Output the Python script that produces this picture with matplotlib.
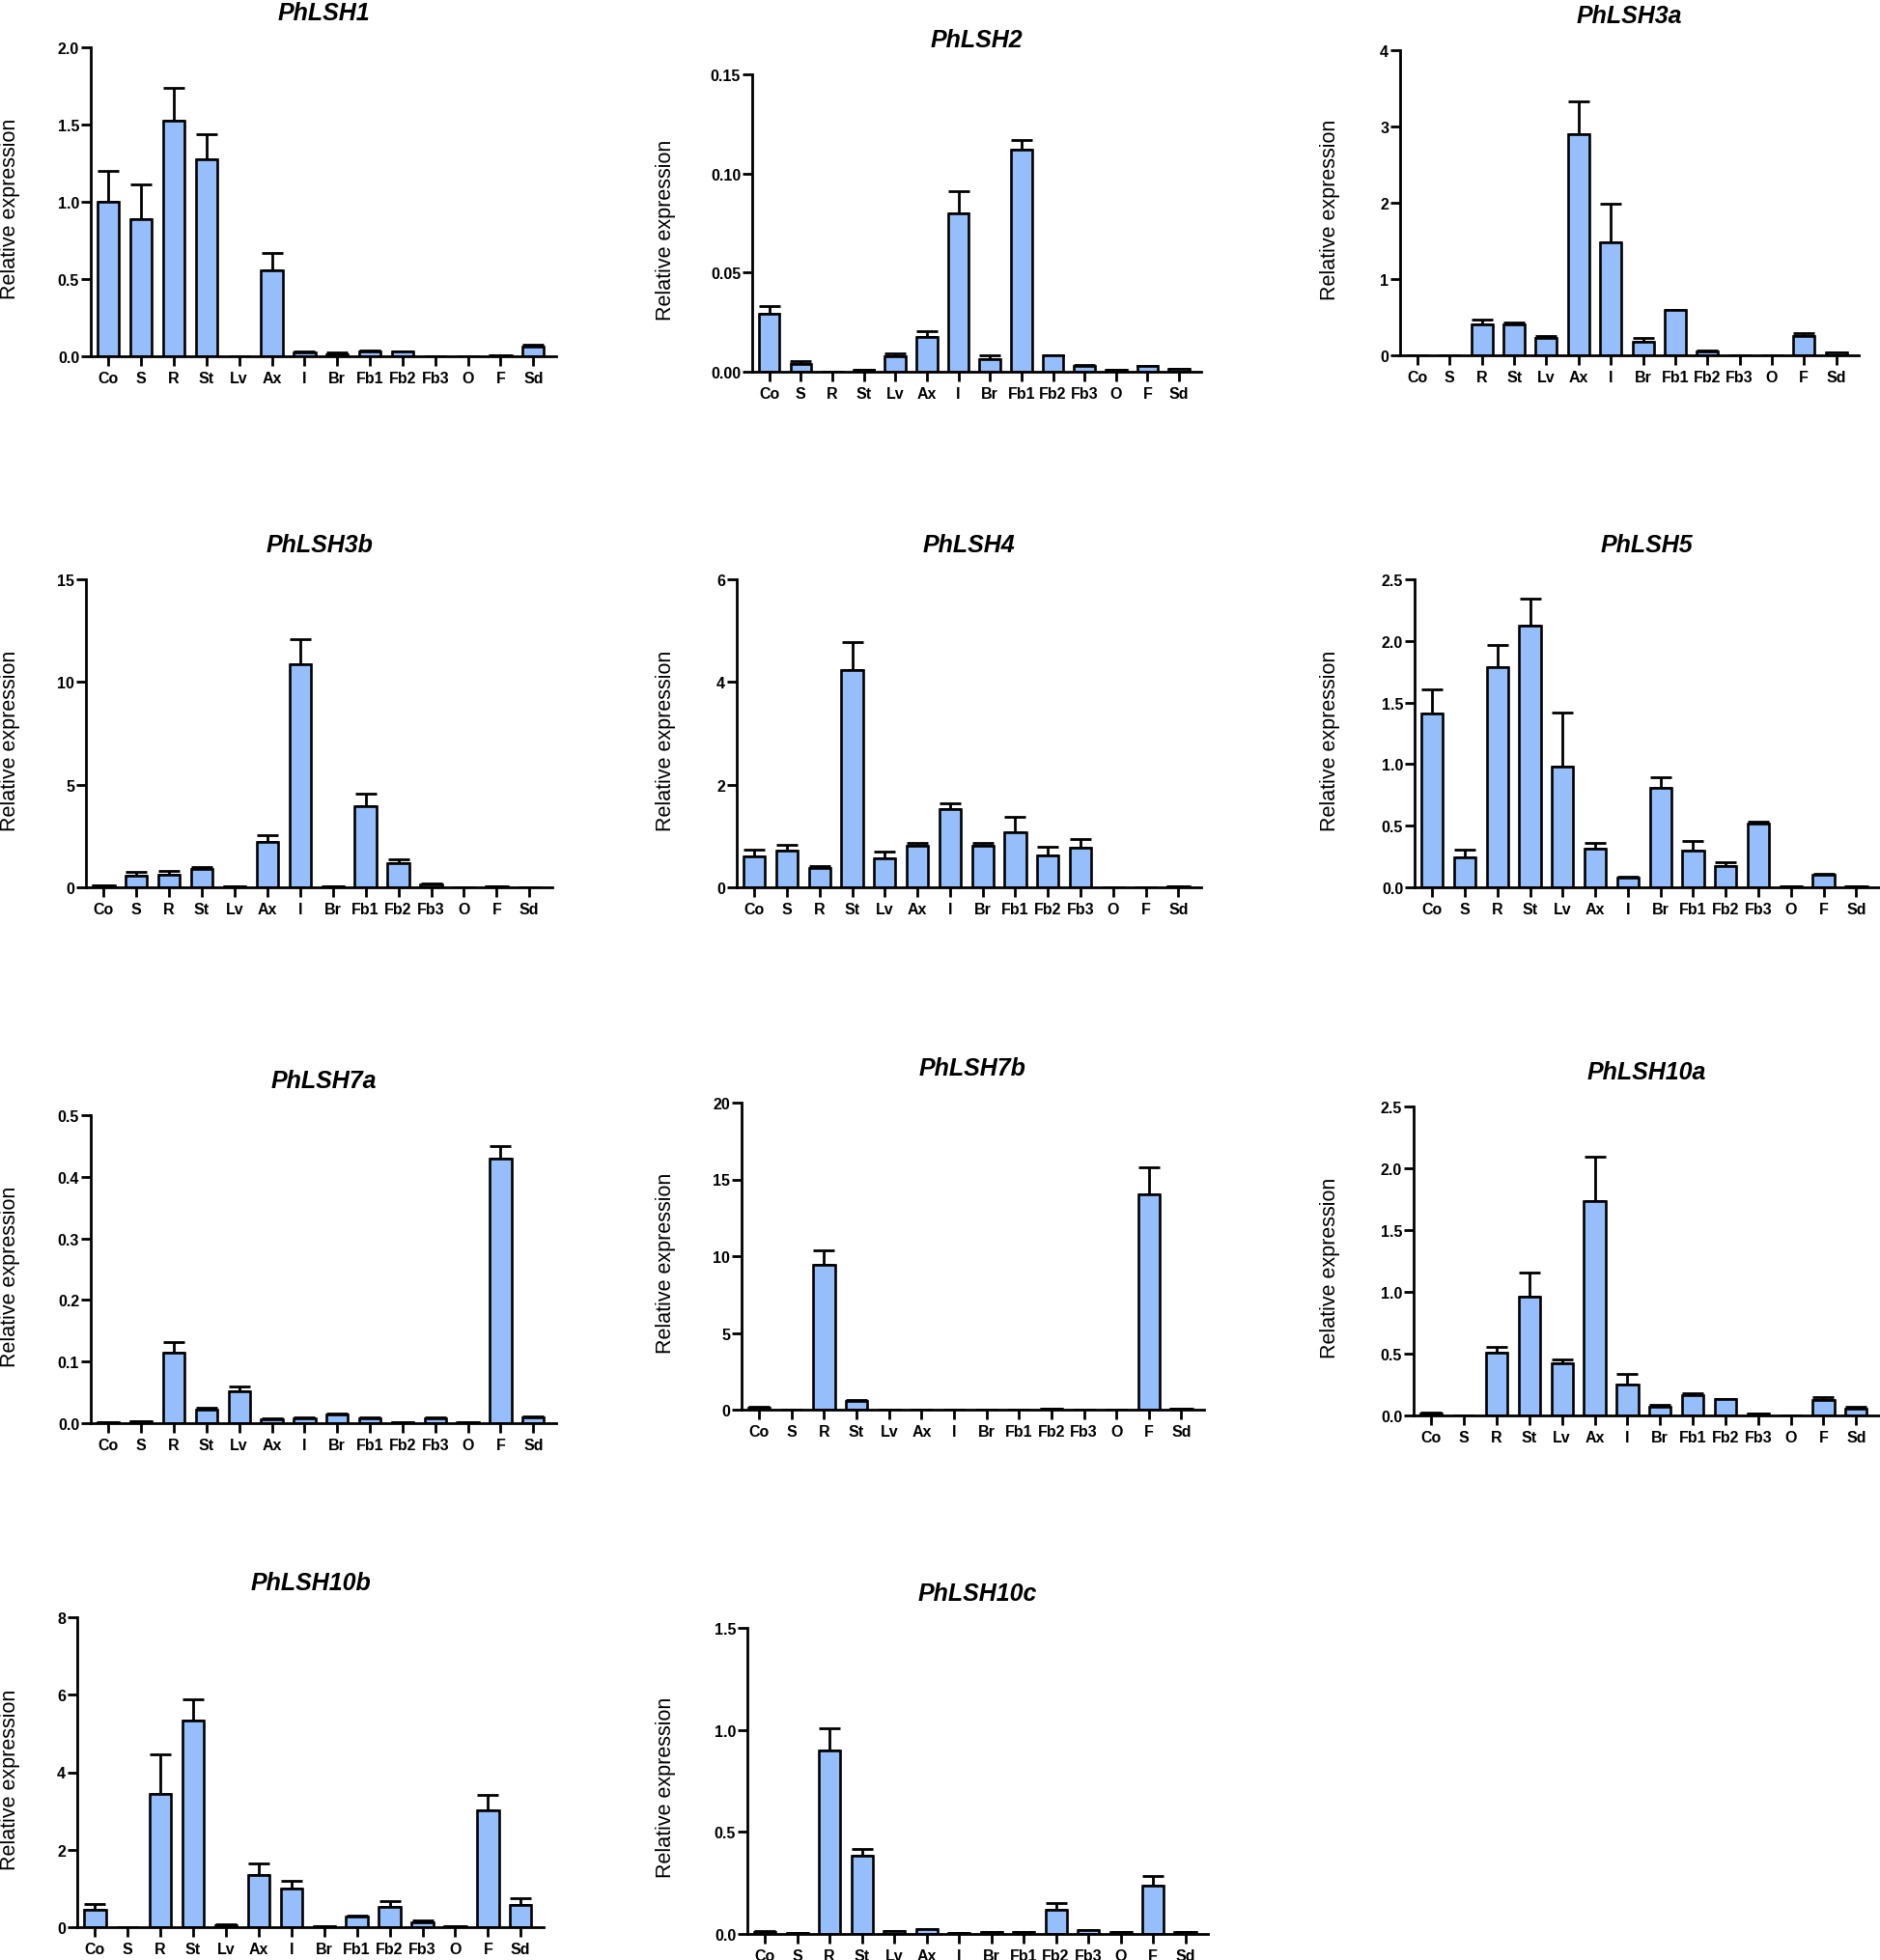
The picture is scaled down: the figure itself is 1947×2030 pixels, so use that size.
import numpy as np
import matplotlib
matplotlib.use("Agg")
import matplotlib.pyplot as plt

# tissues on the x axis
tissues = ["Co", "S", "R", "St", "Lv", "Ax", "I", "Br", "Fb1", "Fb2", "Fb3", "O", "F", "Sd"]

# relative expression (mean) and upper error (SE) per gene
lsh1_mean = [1.0, 0.89, 1.527, 1.277, 0.003, 0.558, 0.025, 0.015, 0.03, 0.03, 0.002, 0.003, 0.005, 0.062]
lsh1_err = [0.2, 0.22, 0.21, 0.16, 0.0, 0.11, 0.005, 0.01, 0.005, 0.003, 0.0, 0.0, 0.0, 0.01]

lsh2_mean = [0.0293, 0.0037, 0.0, 0.0008, 0.0078, 0.0176, 0.0801, 0.0065, 0.1121, 0.0083, 0.0029, 0.0008, 0.0029, 0.0013]
lsh2_err = [0.004, 0.0017, 0.0, 0.0002, 0.0016, 0.0027, 0.011, 0.002, 0.005, 0.0, 0.0005, 0.0, 0.0, 0.0003]

lsh3a_mean = [0.0, 0.005, 0.404, 0.40, 0.223, 2.905, 1.486, 0.181, 0.59, 0.055, 0.003, 0.005, 0.257, 0.034]
lsh3a_err = [0.0, 0.0, 0.06, 0.035, 0.03, 0.42, 0.5, 0.05, 0.005, 0.01, 0.0, 0.0, 0.03, 0.005]

lsh3b_mean = [0.08, 0.58, 0.63, 0.91, 0.03, 2.23, 10.85, 0.04, 3.95, 1.18, 0.13, 0.01, 0.05, 0.02]
lsh3b_err = [0.0, 0.17, 0.15, 0.06, 0.0, 0.31, 1.22, 0.0, 0.6, 0.2, 0.06, 0.0, 0.0, 0.0]

lsh4_mean = [0.61, 0.72, 0.376, 4.23, 0.564, 0.815, 1.517, 0.8, 1.078, 0.627, 0.765, 0.0, 0.0, 0.01]
lsh4_err = [0.12, 0.11, 0.03, 0.55, 0.125, 0.045, 0.11, 0.06, 0.29, 0.16, 0.175, 0.0, 0.0, 0.0]

lsh5_mean = [1.41, 0.243, 1.784, 2.126, 0.98, 0.313, 0.078, 0.81, 0.295, 0.175, 0.515, 0.005, 0.104, 0.008]
lsh5_err = [0.2, 0.065, 0.18, 0.215, 0.44, 0.045, 0.01, 0.085, 0.08, 0.025, 0.02, 0.0, 0.005, 0.0]

lsh7a_mean = [0.002, 0.003, 0.1138, 0.0219, 0.0511, 0.0068, 0.0078, 0.0141, 0.0078, 0.0015, 0.0078, 0.001, 0.4295, 0.0089]
lsh7a_err = [0.0, 0.0, 0.018, 0.0026, 0.009, 0.001, 0.001, 0.001, 0.001, 0.0, 0.001, 0.0, 0.02, 0.002]

lsh7b_mean = [0.13, 0.0, 9.44, 0.55, 0.01, 0.01, 0.01, 0.01, 0.01, 0.05, 0.0, 0.0, 14.02, 0.05]
lsh7b_err = [0.03, 0.0, 0.95, 0.08, 0.0, 0.0, 0.0, 0.0, 0.0, 0.0, 0.0, 0.0, 1.74, 0.0]

lsh10a_mean = [0.018, 0.0, 0.508, 0.964, 0.424, 1.737, 0.253, 0.073, 0.161, 0.13, 0.013, 0.002, 0.125, 0.052]
lsh10a_err = [0.005, 0.0, 0.045, 0.19, 0.03, 0.36, 0.085, 0.01, 0.02, 0.005, 0.003, 0.0, 0.026, 0.02]

lsh10b_mean = [0.457, 0.0, 3.45, 5.33, 0.058, 1.354, 0.997, 0.02, 0.266, 0.515, 0.125, 0.03, 3.015, 0.58]
lsh10b_err = [0.15, 0.0, 1.02, 0.54, 0.01, 0.29, 0.21, 0.0, 0.04, 0.15, 0.04, 0.0, 0.41, 0.17]

lsh10c_mean = [0.011, 0.003, 0.901, 0.381, 0.014, 0.022, 0.003, 0.011, 0.011, 0.117, 0.019, 0.011, 0.236, 0.011]
lsh10c_err = [0.002, 0.0, 0.106, 0.035, 0.002, 0.004, 0.0, 0.0, 0.0, 0.033, 0.002, 0.0, 0.05, 0.0]

genes = ["PhLSH1", "PhLSH2", "PhLSH3a", "PhLSH3b", "PhLSH4", "PhLSH5",
         "PhLSH7a", "PhLSH7b", "PhLSH10a", "PhLSH10b", "PhLSH10c"]
means = [lsh1_mean, lsh2_mean, lsh3a_mean, lsh3b_mean, lsh4_mean, lsh5_mean,
         lsh7a_mean, lsh7b_mean, lsh10a_mean, lsh10b_mean, lsh10c_mean]
errs = [lsh1_err, lsh2_err, lsh3a_err, lsh3b_err, lsh4_err, lsh5_err,
        lsh7a_err, lsh7b_err, lsh10a_err, lsh10b_err, lsh10c_err]

# y ticks per panel (top tick = axis max)
yticks = [np.arange(0, 2.01, 0.5), np.arange(0, 0.151, 0.05), np.arange(0, 4.1, 1),
          np.arange(0, 15.1, 5), np.arange(0, 6.1, 2), np.arange(0, 2.51, 0.5),
          np.arange(0, 0.51, 0.1), np.arange(0, 20.1, 5), np.arange(0, 2.51, 0.5),
          np.arange(0, 8.1, 2), np.arange(0, 1.51, 0.5)]
yfmt = ["%.1f", "%.2f", "%d", "%d", "%d", "%.1f", "%.1f", "%d", "%.1f", "%d", "%.1f"]

# axes boxes in pixels (left, top, right, bottom) and x of the y-label centre
W, H = 1947, 2031
boxes = [(94, 50, 576, 370), (779, 78, 1244, 386), (1450, 53, 1925, 369),
         (89, 601, 572, 920), (763, 601, 1244, 920), (1465, 601, 1946, 920),
         (94, 1156, 576, 1475), (768, 1143, 1247, 1461), (1464, 1147, 1946, 1467),
         (80, 1676, 563, 1997), (774, 1687, 1251, 2004)]
label_x = [11, 689, 1378, 11, 689, 1378, 11, 689, 1378, 11, 689]

bar_color = "#96BEFA"
tick_font = dict(family="Liberation Sans", weight="bold", size=11.5)

fig = plt.figure(figsize=(W / 100, H / 100), dpi=100)
x = np.arange(len(tissues))

for i, gene in enumerate(genes):
    l, t, r, b = boxes[i]
    ax = fig.add_axes([l / W, 1 - b / H, (r - l) / W, (b - t) / H])
    m = np.array(means[i])
    e = np.array(errs[i])
    ax.errorbar(x, m, yerr=[np.zeros_like(e), e], fmt="none", ecolor="black",
                elinewidth=2, capsize=8, capthick=2, zorder=1)
    ax.bar(x, m, width=0.66, color=bar_color, edgecolor="black", linewidth=1.9, zorder=2)

    ax.set_xlim(-0.54, 13.7)
    ax.set_ylim(0, yticks[i][-1])
    ax.set_yticks(yticks[i])
    ax.set_yticklabels([yfmt[i] % v for v in yticks[i]], fontdict=tick_font)
    ax.set_xticks(x)
    ax.set_xticklabels(tissues, fontdict=tick_font)
    ax.tick_params(axis="both", direction="out", length=7, width=2)
    ax.tick_params(axis="y", pad=1.5)
    ax.tick_params(axis="x", pad=3.5)

    for s in ["top", "right"]:
        ax.spines[s].set_visible(False)
    for s in ["left", "bottom"]:
        ax.spines[s].set_linewidth(2)

    ax.set_title(gene, fontsize=18, fontweight="bold", fontstyle="italic",
                 family="Liberation Sans", pad=21)
    ax.set_ylabel("Relative expression", fontsize=15.5, family="Liberation Sans", va="center")
    ax.yaxis.set_label_coords((label_x[i] - l) / (r - l), 0.48)

fig.savefig("out.png", dpi=100)
